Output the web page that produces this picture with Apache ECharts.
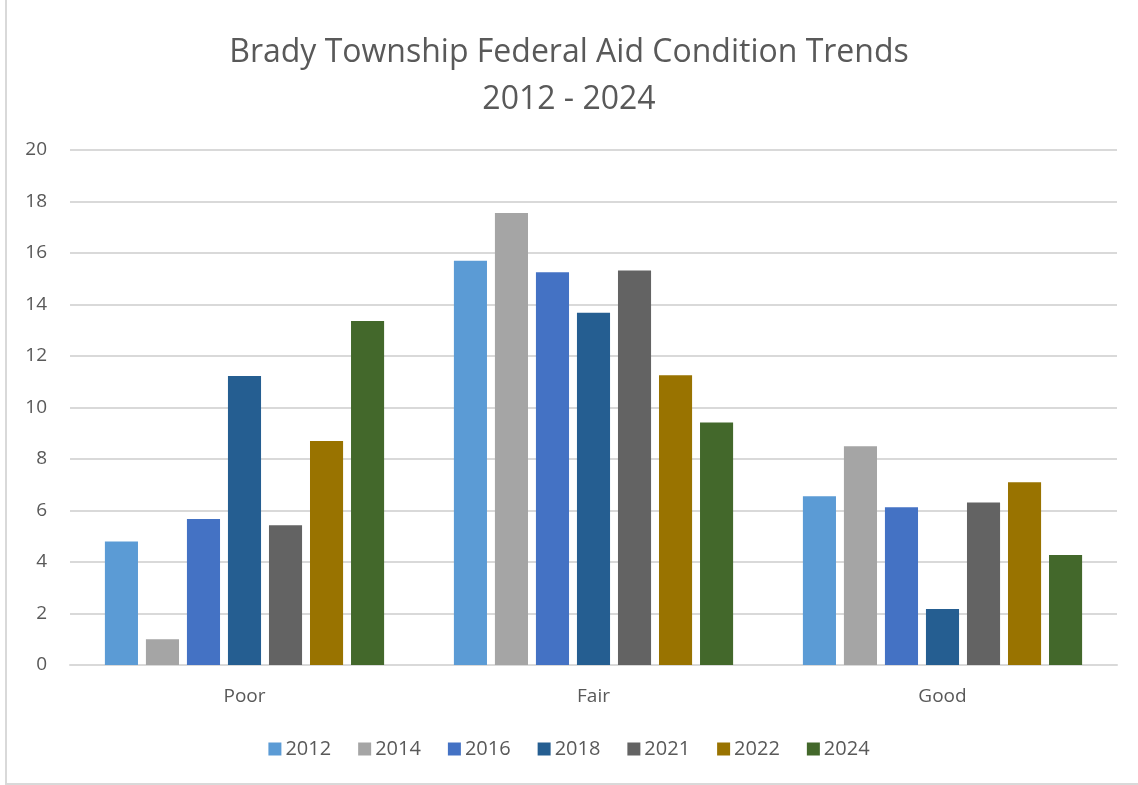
<!DOCTYPE html>
<html>
<head>
<meta charset="utf-8">
<script src="https://cdn.jsdelivr.net/npm/echarts@6/dist/echarts.min.js"></script>
<style>
  html, body { margin: 0; padding: 0; background: #fff; }
  #frame { position: absolute; left: 5px; top: -2px; width: 1140px; height: 785px; border-left: 2px solid #d9d9d9; border-bottom: 2px solid #d9d9d9; }
  #main { position: absolute; left: 0; top: 0; width: 1138px; height: 785px; }
</style>
</head>
<body>
<div id="frame"></div>
<div id="main"></div>
<script>
// categories and series values
const categories = ["Poor", "Fair", "Good"];
const years = ["2012", "2014", "2016", "2018", "2021", "2022", "2024"];
const v2012 = [4.8, 15.7, 6.55];
const v2014 = [1.0, 17.55, 8.5];
const v2016 = [5.67, 15.25, 6.13];
const v2018 = [11.22, 13.68, 2.17];
const v2021 = [5.43, 15.32, 6.31];
const v2022 = [8.7, 11.25, 7.1];
const v2024 = [13.36, 9.42, 4.27];
const yTicks = [0, 2, 4, 6, 8, 10, 12, 14, 16, 18, 20];

const allValues = [v2012, v2014, v2016, v2018, v2021, v2022, v2024];
const colors = ['#5B9BD5', '#A5A5A5', '#4472C4', '#255E91', '#636363', '#997300', '#43682B'];
const textColor = '#595959';
const font = '"Open Sans", "Liberation Sans", sans-serif';

let myChart = echarts.init(document.getElementById('main'));

let series = years.map((y, i) => ({
  name: y,
  type: 'bar',
  data: allValues[i],
  barGap: '24%',
  barCategoryGap: '20%',
  itemStyle: { color: colors[i] }
}));

let option = {
  color: colors,
  animation: false,
  textStyle: { fontFamily: font },
  title: {
    text: 'Brady Township Federal Aid Condition Trends\n2012 - 2024',
    left: 'center',
    top: 24,
    padding: [5, 0, 5, 14],
    textStyle: { color: textColor, fontSize: 32, fontWeight: 'normal', lineHeight: 47, fontFamily: font }
  },
  legend: {
    data: years,
    bottom: 21,
    left: 'center',
    padding: [5, 0, 5, 20],
    itemWidth: 13,
    itemHeight: 13,
    itemGap: 27,
    icon: 'rect',
    textStyle: { color: textColor, fontSize: 20, fontFamily: font, padding: [0, 0, 0, -1] }
  },
  grid: {
    left: 70,
    right: 21,
    top: 150,
    bottom: 120,
    containLabel: false
  },
  xAxis: {
    type: 'category',
    data: categories,
    axisLine: { lineStyle: { color: '#d9d9d9', width: 2 } },
    axisTick: { show: false },
    axisLabel: { color: textColor, fontSize: 19, margin: 22, fontFamily: font }
  },
  yAxis: {
    type: 'value',
    min: yTicks[0],
    max: yTicks[yTicks.length - 1],
    interval: 2,
    axisLine: { show: false },
    axisTick: { show: false },
    splitLine: { lineStyle: { color: '#d9d9d9', width: 2 } },
    axisLabel: { color: textColor, fontSize: 19, margin: 23, fontFamily: font }
  },
  series: series
};

myChart.setOption(option);
</script>
</body>
</html>
